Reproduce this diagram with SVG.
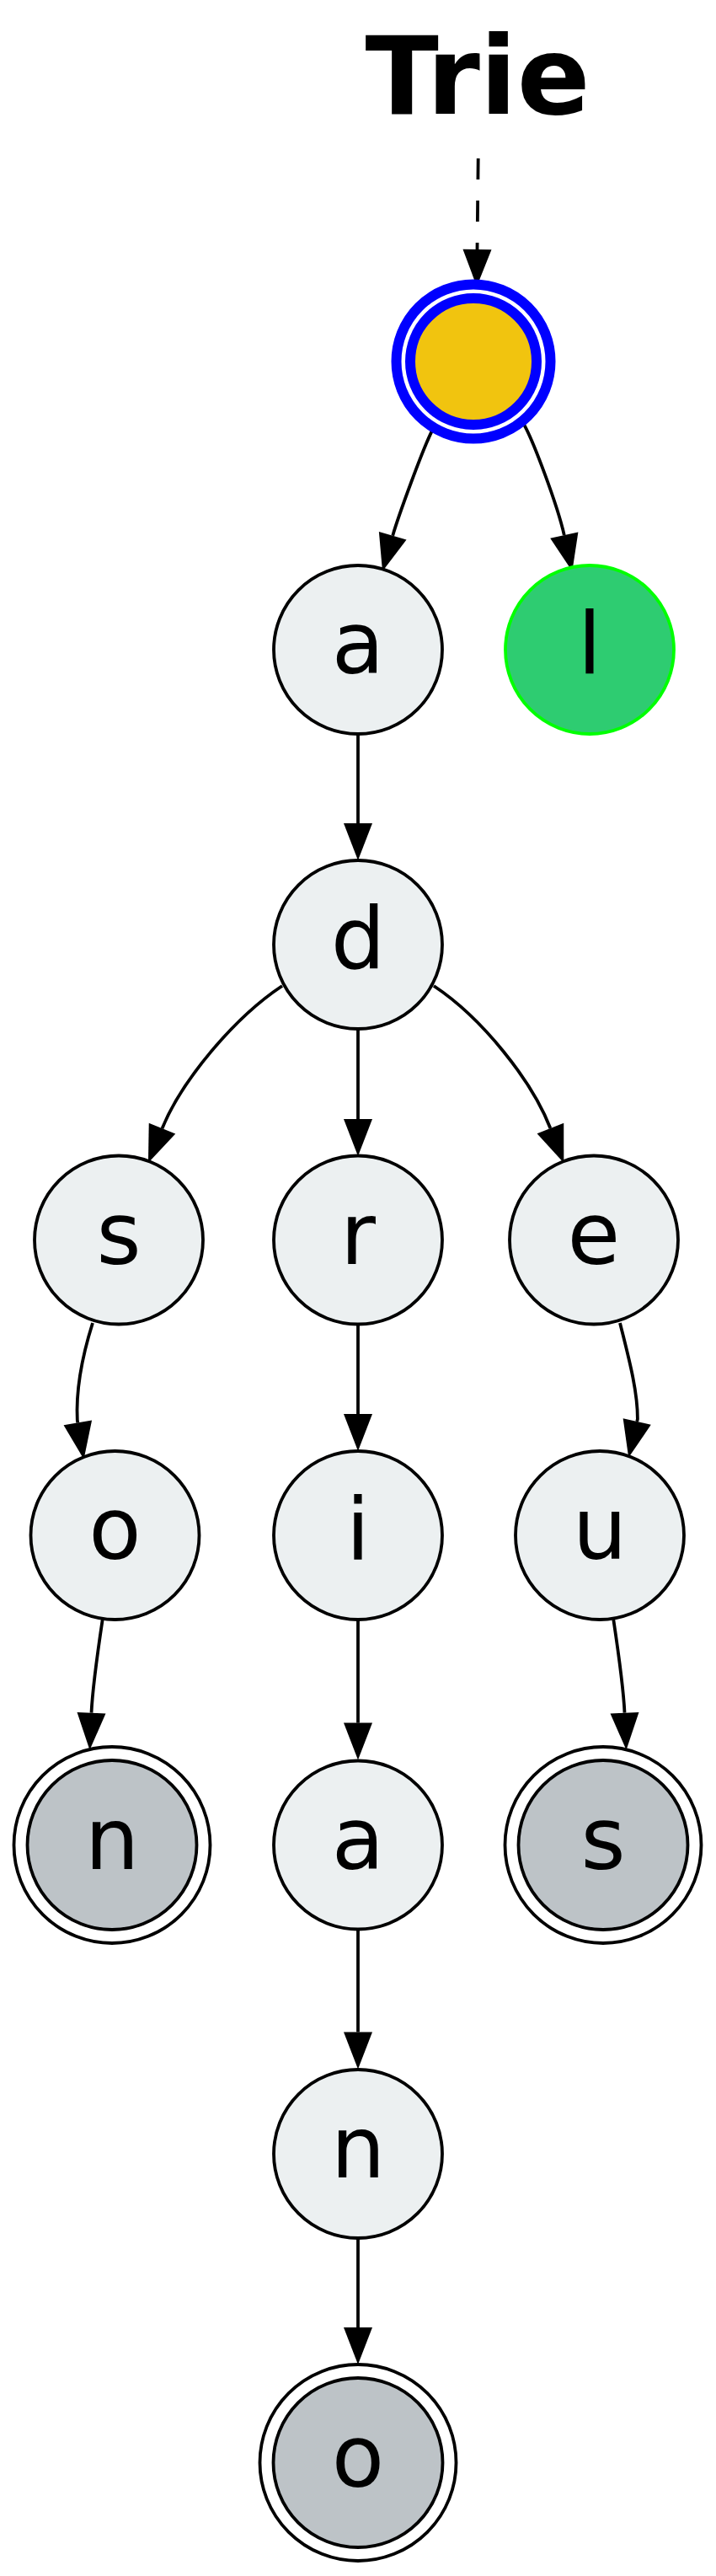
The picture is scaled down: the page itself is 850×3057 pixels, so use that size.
<svg xmlns="http://www.w3.org/2000/svg" width="850" height="3057" viewBox="0 0 850 3057">
<defs>
<style>
.edge{fill:none;stroke:#000;stroke-width:3.8}
.dash{stroke-dasharray:25,25}
.nd{fill:#ecf0f1;stroke:#000;stroke-width:3.8}
.term{fill:#bdc3c7;stroke:#000;stroke-width:3.8}
.ring{fill:none;stroke:#000;stroke-width:3.8}
.lbl{font-family:"DejaVu Sans","Liberation Sans",sans-serif;font-size:102px;text-anchor:middle;fill:#000}
.title{font-family:"DejaVu Sans","Liberation Sans",sans-serif;font-size:128px;font-weight:bold;text-anchor:middle;fill:#000}
</style>
<marker id="ah" markerUnits="userSpaceOnUse" markerWidth="46" markerHeight="36" refX="0" refY="17" orient="auto" overflow="visible">
<path d="M0,0 L44,17 L0,34 Z" fill="#000"/>
</marker>
</defs>
<rect width="850" height="3057" fill="#fff"/>
<g id="edges">
<path class="edge dash" d="M567.7,188 L566.5,296" marker-end="url(#ah)"/>
<path class="edge" d="M514,509 C502,532 472.3,614.5 466.2,635.7" marker-end="url(#ah)"/>
<path class="edge" d="M621,502 C632,520 662,600 669.8,635.1" marker-end="url(#ah)"/>
<path class="edge" d="M425,872 L425,977" marker-end="url(#ah)"/>
<path class="edge" d="M335,1170 C276.9,1208.5 215.1,1283.5 192.5,1339.2" marker-end="url(#ah)"/>
<path class="edge" d="M425,1222 L425,1328" marker-end="url(#ah)"/>
<path class="edge" d="M515,1170 C573,1208.5 631.7,1283 653.4,1339" marker-end="url(#ah)"/>
<path class="edge" d="M110,1570 C98,1608 90,1650 91.8,1685.4 L92.3,1688.4" marker-end="url(#ah)"/>
<path class="edge" d="M425,1573 L425,1678" marker-end="url(#ah)"/>
<path class="edge" d="M736,1570 C746,1610 757,1650 756.9,1684 L756.2,1687" marker-end="url(#ah)"/>
<path class="edge" d="M121.7,1922 C116,1960 110,2000 108.5,2032.7" marker-end="url(#ah)"/>
<path class="edge" d="M425,1923 L425,2044.6" marker-end="url(#ah)"/>
<path class="edge" d="M728.3,1922 C734,1960 740,2000 741.5,2032.7" marker-end="url(#ah)"/>
<path class="edge" d="M425,2290 L425,2411.5" marker-end="url(#ah)"/>
<path class="edge" d="M425,2657 L425,2762" marker-end="url(#ah)"/>
</g>
<g id="title"><text class="title" x="567" y="135">Trie</text></g>
<g id="root">
<circle cx="562" cy="429" r="91.5" fill="none" stroke="#0000ff" stroke-width="12"/>
<circle cx="562" cy="429" r="75" fill="#f1c40f" stroke="#0000ff" stroke-width="12"/>
</g>
<g id="n_a"><circle class="nd" cx="425" cy="771" r="100"/><text class="lbl" x="425" y="799">a</text></g>
<g id="n_l"><circle cx="700" cy="771" r="100" fill="#2ecc71" stroke="#00ff00" stroke-width="3.8"/><text class="lbl" x="700" y="799">l</text></g>
<g id="n_ad"><circle class="nd" cx="425" cy="1121" r="100"/><text class="lbl" x="425" y="1149">d</text></g>
<g id="n_ads"><circle class="nd" cx="141" cy="1471.5" r="100"/><text class="lbl" x="141" y="1499.5">s</text></g>
<g id="n_adr"><circle class="nd" cx="425" cy="1471.5" r="100"/><text class="lbl" x="425" y="1499.5">r</text></g>
<g id="n_ade"><circle class="nd" cx="705" cy="1471.5" r="100"/><text class="lbl" x="705" y="1499.5">e</text></g>
<g id="n_adso"><circle class="nd" cx="136.5" cy="1822" r="100"/><text class="lbl" x="136.5" y="1850">o</text></g>
<g id="n_adri"><circle class="nd" cx="425" cy="1822" r="100"/><text class="lbl" x="425" y="1850">i</text></g>
<g id="n_adeu"><circle class="nd" cx="712" cy="1822" r="100"/><text class="lbl" x="712" y="1850">u</text></g>
<g id="n_adson"><circle class="ring" cx="133" cy="2189.5" r="116.5"/><circle class="term" cx="133" cy="2189.5" r="100.5"/><text class="lbl" x="133" y="2217.5">n</text></g>
<g id="n_adria"><circle class="nd" cx="425" cy="2189.5" r="100"/><text class="lbl" x="425" y="2217.5">a</text></g>
<g id="n_adeus"><circle class="ring" cx="716" cy="2189.5" r="116.5"/><circle class="term" cx="716" cy="2189.5" r="100.5"/><text class="lbl" x="716" y="2217.5">s</text></g>
<g id="n_adrian"><circle class="nd" cx="425" cy="2556" r="100"/><text class="lbl" x="425" y="2584">n</text></g>
<g id="n_adriano"><circle class="ring" cx="425" cy="2922.5" r="116.5"/><circle class="term" cx="425" cy="2922.5" r="100.5"/><text class="lbl" x="425" y="2950.5">o</text></g>
</svg>
